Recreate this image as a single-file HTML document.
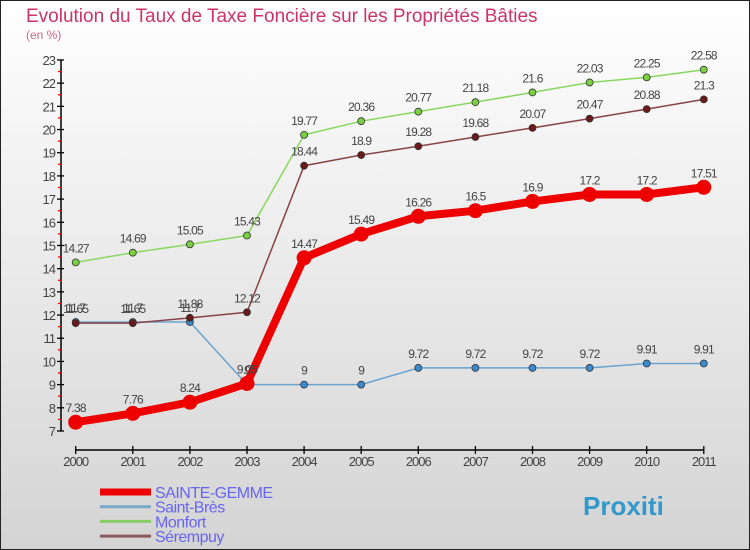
<!DOCTYPE html>
<html><head><meta charset="utf-8"><style>
body{margin:0}
#c{width:750px;height:550px;position:relative;overflow:hidden;background:linear-gradient(#ffffff,#d4d4d4);font-family:"Liberation Sans",sans-serif}
</style></head><body>
<div id="c">
<svg id="s" width="750" height="550" style="position:absolute;left:0;top:0">
<rect x="0.5" y="0.5" width="749" height="549" fill="none" stroke="#222"/>
<text x="26" y="22" font-size="19" fill="#cc3366">Evolution du Taux de Taxe Foncière sur les Propriétés Bâties</text>
<text x="26" y="39" font-size="12" fill="#cc6688">(en %)</text>
<g id="axes"></g><g id="series"></g><g id="legend"></g>
</svg>
</div>
<script>
const years=[2000,2001,2002,2003,2004,2005,2006,2007,2008,2009,2010,2011];
const yTicks=[7,8,9,10,11,12,13,14,15,16,17,18,19,20,21,22,23];
const gemme=[7.38,7.76,8.24,9.05,14.47,15.49,16.26,16.5,16.9,17.2,17.2,17.51];
const bres=[11.7,11.7,11.7,9,9,9,9.72,9.72,9.72,9.72,9.91,9.91];
const monfort=[14.27,14.69,15.05,15.43,19.77,20.36,20.77,21.18,21.6,22.03,22.25,22.58];
const serempuy=[11.65,11.65,11.88,12.12,18.44,18.9,19.28,19.68,20.07,20.47,20.88,21.3];
const NS="http://www.w3.org/2000/svg";
const X=i=>75.7+i*57.1;
const Y=v=>431-(v-7)*23.19;
function mk(tag,at,parent){const e=document.createElementNS(NS,tag);for(const k in at)e.setAttribute(k,at[k]);parent.appendChild(e);return e;}
const ax=document.getElementById('axes');
let l=mk('line',{x1:61,y1:Y(23),x2:61,y2:Y(7),stroke:'#000','stroke-width':1.5},ax);


yTicks.forEach(v=>{
 let t=mk('line',{x1:57,y1:Y(v),x2:64,y2:Y(v),stroke:'#000','stroke-width':1.3},ax);
 
 
 if(v<23){let m=mk('line',{x1:58,y1:Y(v+0.5),x2:61,y2:Y(v+0.5),stroke:'#e00','stroke-width':1.3},ax);
 
 }
 let tx=mk('text',{x:55,y:Y(v)+5,'text-anchor':'end','font-size':13,fill:'#444','letter-spacing':'-1'},ax);
 tx.textContent=v;
 
 
});
l=mk('line',{x1:X(0),y1:450,x2:X(11),y2:450,stroke:'#000','stroke-width':1.5},ax);


years.forEach((yr,i)=>{
 let t=mk('line',{x1:X(i),y1:446,x2:X(i),y2:454,stroke:'#000','stroke-width':1.3},ax);
 
 
 let tx=mk('text',{x:X(i),y:466,'text-anchor':'middle','font-size':13,fill:'#444','letter-spacing':'-1'},ax);
 tx.textContent=yr;
 
 
});
const sg=document.getElementById('series');
function draw(name,vals,color,w,r,dot){
 const g=mk('g',{},sg);
 
 
 let p=mk('polyline',{points:vals.map((v,i)=>X(i)+','+Y(v)).join(' '),fill:'none',stroke:color,'stroke-width':w,'stroke-linejoin':'round'},g);
 
 
 vals.forEach((v,i)=>{
  let c=mk('circle',{cx:X(i),cy:Y(v),r:r,fill:dot,stroke:'#333','stroke-width':r>5?0:0.8},g);
  
  
  let t=mk('text',{x:X(i),y:Y(v)-10,'text-anchor':'middle','font-size':12,fill:'#444','letter-spacing':'-0.8'},g);
  t.textContent=v;
  
  
 });
}
draw('saint-bres',bres,'#6aa3d0',1.5,3.5,'#3a8ad0');
draw('monfort',monfort,'#88d860',1.5,3.5,'#7ad040');
draw('serempuy',serempuy,'#884444',1.5,3.5,'#6a1a1a');
draw('sainte-gemme',gemme,'#ee0000',8,7.5,'#ee0000');
const lg=document.getElementById('legend');
const lnames=['SAINTE-GEMME','Saint-Brès','Monfort','Sérempuy'];
const lcols=['#ee0000','#7aa8c8','#88cc66','#8a5a5a'];
const lws=[7,3,3,3];
lnames.forEach((n,i)=>{
 const y=492+i*14.7;
 let li=mk('line',{x1:100,y1:y,x2:151,y2:y,stroke:lcols[i],'stroke-width':lws[i]},lg);
 
 
 let t=mk('text',{x:155,y:y+6,'font-size':16,fill:'#6666ee','letter-spacing':'-0.5'},lg);
 t.textContent=n;
 
 
});
let b=mk('text',{x:583,y:515,'font-size':26,'font-weight':'bold',fill:'#3399cc'},lg);
b.textContent='Proxiti';


</script>
</body></html>
